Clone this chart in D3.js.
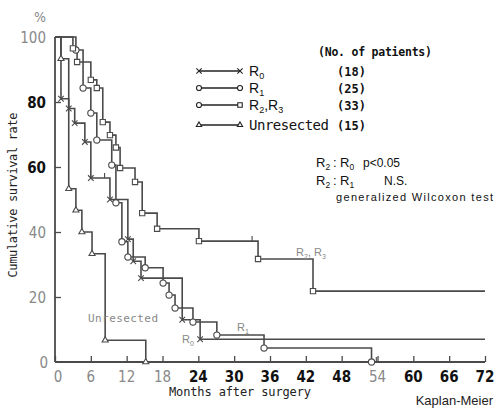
<!DOCTYPE html>
<html>
<head>
<meta charset="utf-8">
<script src="https://cdn.jsdelivr.net/npm/d3@7"></script>
<style>
  body { margin: 0; background: #fff; }
  svg { display: block; }
  .mono { font-family: "DejaVu Sans Mono", monospace; }
  .narrow { font-family: "DejaVu Sans Condensed", "Liberation Sans Narrow", sans-serif; font-stretch: condensed; }
  .sans { font-family: "Liberation Sans", Arial, sans-serif; }
</style>
</head>
<body>
<script>
let width = 497;
let height = 408;

// data (months, survival %)
const monthTicks = [0, 6, 12, 18, 24, 30, 36, 42, 48, 54, 60, 66, 72];
const rateTicks = [0, 20, 40, 60, 80, 100];

const r0Months = [0, 1, 2.3, 3.3, 5, 6, 9.2, 12.2, 13.1, 14.4, 21.3, 24.3];
const r0Rates = [100, 81, 78, 73.5, 67.7, 56.6, 50, 37.8, 31, 25.8, 13, 7];
const r0End = 72;

const r1Months = [0, 3.5, 4.7, 6, 7, 9.5, 10.2, 11.2, 12.2, 15.1, 18.1, 19.1, 20.1, 23.1, 27.1, 35, 53];
const r1Rates = [100, 96, 84.3, 76.6, 68.3, 60.6, 49, 37, 32.3, 29, 24.3, 20.6, 16.6, 12.3, 8.3, 4.3, 0];
const r1End = 53;

const r2Months = [0, 3, 3.7, 6, 7, 8, 9.2, 10.2, 10.9, 13.4, 14.6, 17.1, 24.1, 34, 43.2];
const r2Rates = [100, 96.5, 92.3, 86.8, 84.3, 73.8, 69.8, 66, 59.7, 55.4, 45.8, 41, 37.2, 31.7, 21.8];
const r2End = 72;

const unMonths = [0, 1, 2.3, 3.5, 4.5, 6.2, 8.4, 15.2];
const unRates = [100, 93.3, 53.3, 46.7, 40, 33.3, 6.7, 0];
const unEnd = 15.2;

const legendNames = ['R0', 'R1', 'R2,R3', 'Unresected'];
const patientCounts = [18, 25, 33, 15];

let svg = d3.select('body').append('svg')
	.attr('width', width)
	.attr('height', height);

let x = d3.scaleLinear().domain([0, 72]).range([55, 485]);
let y = d3.scaleLinear().domain([0, 100]).range([362, 37]);

const lineColor = '#4a4a4a';

// axes
let xAxis = d3.axisBottom(x).tickValues(monthTicks).tickSize(-6).tickFormat('');
svg.append('g').attr('transform', 'translate(0,' + y(0) + ')').call(xAxis);
let yAxis = d3.axisLeft(y).tickValues(rateTicks.slice(1, 5)).tickSize(-6).tickFormat('');
svg.append('g').attr('transform', 'translate(' + x(0) + ',0)').call(yAxis);
svg.selectAll('.domain').attr('d', null);
svg.selectAll('.tick line').style('stroke', lineColor).style('stroke-width', 1.3);

svg.append('line')
	.attr('x1', x(0)).attr('x2', x(0))
	.attr('y1', y(100)).attr('y2', y(0))
	.style('stroke', lineColor).style('stroke-width', 1.8);
svg.append('line')
	.attr('x1', x(0)).attr('x2', x(72))
	.attr('y1', y(0)).attr('y2', y(0))
	.style('stroke', lineColor).style('stroke-width', 1.8);

// tick labels (scan has some faded labels)
const fadedX = [0, 6, 12, 18, 54];
svg.selectAll('.xlab').data(monthTicks).enter().append('text')
	.attr('class', 'xlab narrow')
	.attr('x', d => d == 0 ? x(d) + 3 : x(d))
	.attr('y', 382)
	.attr('text-anchor', 'middle')
	.style('font-size', '15px')
	.style('font-weight', d => fadedX.includes(d) ? 'normal' : 'bold')
	.style('fill', d => fadedX.includes(d) ? '#888' : '#111')
	.text(d => d);

const fadedY = [0, 20, 40, 100];
svg.selectAll('.ylab').data(rateTicks).enter().append('text')
	.attr('class', 'ylab narrow')
	.attr('x', d => d == 0 ? 48 : 46)
	.attr('y', d => y(d) + 6)
	.attr('text-anchor', 'end')
	.style('font-size', '15px')
	.style('font-weight', d => fadedY.includes(d) ? 'normal' : 'bold')
	.style('fill', d => fadedY.includes(d) ? '#888' : '#111')
	.text(d => d);

svg.append('text').attr('class', 'narrow')
	.attr('x', 40).attr('y', 22).attr('text-anchor', 'middle')
	.style('font-size', '14px').style('fill', '#888').text('%');

svg.append('text').attr('class', 'mono')
	.attr('transform', 'translate(17,195) rotate(-90)')
	.attr('text-anchor', 'middle')
	.attr('textLength', 165)
	.style('font-size', '12px').style('fill', '#222')
	.text('Cumulative survival rate');

svg.append('text').attr('class', 'mono')
	.attr('x', 240).attr('y', 396).attr('text-anchor', 'middle')
	.attr('textLength', 142)
	.style('font-size', '12px').style('fill', '#222')
	.text('Months after surgery');

svg.append('text').attr('class', 'sans')
	.attr('x', 493).attr('y', 405).attr('text-anchor', 'end')
	.style('font-size', '13px').style('fill', '#222')
	.text('Kaplan-Meier');

// curves
let series = [
	{ months: r0Months, rates: r0Rates, end: r0End, sym: d3.symbolTimes, size: 22 },
	{ months: r1Months, rates: r1Rates, end: r1End, sym: d3.symbolCircle, size: 30 },
	{ months: r2Months, rates: r2Rates, end: r2End, sym: d3.symbolSquare, size: 28 },
	{ months: unMonths, rates: unRates, end: unEnd, sym: d3.symbolTriangle, size: 16 }
];

let step = d3.line().x(d => x(d[0])).y(d => y(d[1])).curve(d3.curveStepAfter);

for (let s of series) {
	let pts = s.months.map((m, i) => [m, s.rates[i]]);
	pts.push([s.end, s.rates[s.rates.length - 1]]);
	svg.append('path')
		.attr('d', step(pts))
		.style('fill', 'none')
		.style('stroke', lineColor)
		.style('stroke-width', 1.6);
}

for (let s of series) {
	let pts = s.months.slice(1).map((m, i) => [m, s.rates[i + 1]]);
	svg.selectAll(null).data(pts).enter().append('path')
		.attr('d', d3.symbol().type(s.sym).size(s.size))
		.attr('transform', d => 'translate(' + x(d[0]) + ',' + y(d[1]) + ')')
		.style('fill', '#fff')
		.style('stroke', lineColor)
		.style('stroke-width', 1.1);
}

// censor marks
const censorMonths = [33, 8.3, 53.8];
const censorRates = [37.2, 56.6, 0];
svg.selectAll('.cens').data(censorMonths).enter().append('line')
	.attr('x1', d => x(d)).attr('x2', d => x(d))
	.attr('y1', (d, i) => y(censorRates[i]) - 5)
	.attr('y2', (d, i) => y(censorRates[i]))
	.style('stroke', lineColor).style('stroke-width', 1.1);

// curve annotations
function rLabel(g, base, sub, xp, yp, size, color) {
	let t = g.append('text').attr('class', 'sans')
		.attr('x', xp).attr('y', yp)
		.style('font-size', size + 'px').style('fill', color);
	t.append('tspan').text(base);
	t.append('tspan').attr('dy', 3).style('font-size', (size * 0.65) + 'px').text(sub);
	return t;
}
let t23 = rLabel(svg, 'R', '2', 296, 256, 11, '#888');
t23.append('tspan').attr('dy', -3).text(', R');
t23.append('tspan').attr('dy', 3).style('font-size', '7px').text('3');
rLabel(svg, 'R', '1', 237, 331, 11, '#888');
rLabel(svg, 'R', '0', 182, 343, 11, '#888');
svg.append('text').attr('class', 'mono')
	.attr('x', 88).attr('y', 322)
	.attr('textLength', 70)
	.style('font-size', '11px').style('fill', '#888')
	.text('Unresected');

// legend
const legendY = [71, 88, 105, 125];
svg.append('text').attr('class', 'mono')
	.attr('x', 318).attr('y', 56)
	.attr('textLength', 114)
	.style('font-size', '11.5px').style('font-weight', 'bold').style('fill', '#111')
	.text('(No. of patients)');

let legendSyms = [
	[d3.symbolTimes, d3.symbolTimes],
	[d3.symbolCircle, d3.symbolCircle],
	[d3.symbolCircle, d3.symbolSquare],
	[d3.symbolTriangle, d3.symbolTriangle]
];

legendNames.forEach((name, i) => {
	let ly = legendY[i];
	svg.append('line')
		.attr('x1', 199).attr('x2', 240)
		.attr('y1', ly).attr('y2', ly)
		.style('stroke', '#222').style('stroke-width', 1.6);
	[199, 240].forEach((lx, j) => {
		svg.append('path')
			.attr('d', d3.symbol().type(legendSyms[i][j]).size(i == 3 ? 12 : 20))
			.attr('transform', 'translate(' + lx + ',' + ly + ')')
			.style('fill', '#fff').style('stroke', '#222').style('stroke-width', 1.1);
	});
	if (name == 'Unresected') {
		svg.append('text').attr('class', 'mono')
			.attr('x', 249).attr('y', ly + 5)
			.attr('textLength', 80)
			.style('font-size', '14px').style('fill', '#111')
			.text(name);
	} else if (name == 'R2,R3') {
		let t = rLabel(svg, 'R', '2', 249, ly + 5, 14, '#111');
		t.append('tspan').attr('dy', -3).text(',R');
		t.append('tspan').attr('dy', 3).style('font-size', '9px').text('3');
	} else {
		rLabel(svg, 'R', name.slice(1), 249, ly + 5, 14, '#111');
	}
	svg.append('text').attr('class', 'mono')
		.attr('x', 337).attr('y', ly + 5)
		.style('font-size', '12px').style('font-weight', 'bold').style('fill', '#111')
		.text('(' + patientCounts[i] + ')');
});

// test results
function statLine(yp, sub, rest, restX) {
	rLabel(svg, 'R', '2', 316, yp, 13, '#111');
	svg.append('text').attr('class', 'sans')
		.attr('x', 333).attr('y', yp)
		.style('font-size', '13px').style('fill', '#111').text(':');
	rLabel(svg, 'R', sub, 340, yp, 13, '#111');
	svg.append('text').attr('class', 'sans')
		.attr('x', restX).attr('y', yp)
		.style('font-size', '12px').style('fill', '#111').text(rest);
}
statLine(167, '0', 'p<0.05', 363);
statLine(185, '1', 'N.S.', 384);
svg.append('text').attr('class', 'sans')
	.attr('x', 336).attr('y', 201)
	.attr('textLength', 157)
	.style('font-size', '11px').style('fill', '#111')
	.text('generalized Wilcoxon test');
</script>
</body>
</html>
